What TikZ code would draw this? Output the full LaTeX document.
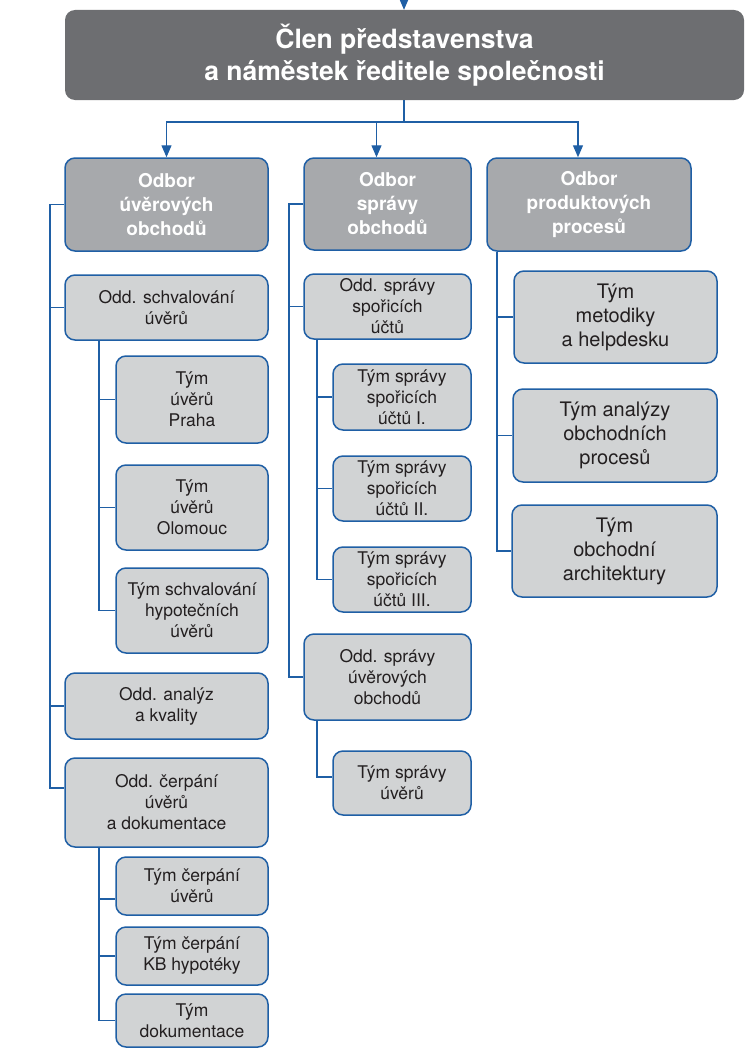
\documentclass[tikz,border=0pt]{standalone}
\usepackage{fontspec}
\setmainfont{TeX Gyre Heros}
\usetikzlibrary{arrows.meta}
\definecolor{topgray}{HTML}{6D6E71}
\definecolor{midgray}{HTML}{A7A9AC}
\definecolor{lightgray}{HTML}{D1D3D4}
\definecolor{lineblue}{HTML}{1F5FA5}
\definecolor{txt}{HTML}{231F20}
\newcommand\bx[7]{\node[#1, minimum width={#5-#3}, minimum height={#6-#4}] (#2) at ({(#3+#5)/2},{(#4+#6)/2}) {#7};}
\begin{document}
\begin{tikzpicture}[x=1pt,y=-1pt,
  base/.style={rounded corners=10pt, align=center, inner sep=0pt},
  topbox/.style={base, fill=topgray, text=white, font=\bfseries\fontsize{26.5}{32}\selectfont},
  odbor/.style={base, draw=lineblue, line width=1.5pt, fill=midgray, text=white, font=\bfseries\fontsize{19}{24}\selectfont},
  odd/.style={base, draw=lineblue, line width=1.5pt, fill=lightgray, text=txt, font=\fontsize{17.5}{21}\selectfont},
  tym/.style={odd},
  tymc/.style={odd, font=\fontsize{20}{24}\selectfont},
  conn/.style={draw=lineblue, line width=1.2pt},
  arr/.style={conn, -{Triangle[width=10pt,length=12pt]}}
]
\useasboundingbox (0,0) rectangle (745,1049);

% top
\bx{topbox}{T}{65}{10}{744}{100}{Člen představenstva\\a náměstek ředitele společnosti}
% level 1
\bx{odbor}{A}{65}{158}{268}{251}{Odbor\\úvěrových\\obchodů}
\bx{odbor}{B}{304}{158}{471}{250}{Odbor\\správy\\obchodů}
\bx{odbor}{C}{487}{158}{691}{251}{Odbor\\produktových\\procesů}

% column A
\bx{odd}{A1}{65}{275}{268}{340}{Odd. schvalování\\úvěrů}
\bx{tym}{A11}{116}{356}{268}{443}{Tým\\úvěrů\\Praha}
\bx{tym}{A12}{116}{465}{268}{550}{Tým\\úvěrů\\Olomouc}
\bx{tym}{A13}{116}{568}{268}{653}{Tým schvalování\\hypotečních\\úvěrů}
\bx{odd}{A2}{65}{673}{268}{739}{Odd. analýz\\a kvality}
\bx{odd}{A3}{65}{758}{268}{847}{Odd. čerpání\\úvěrů\\a dokumentace}
\bx{tym}{A31}{116}{857}{268}{915}{Tým čerpání\\úvěrů}
\bx{tym}{A32}{116}{927}{268}{985}{Tým čerpání\\KB hypotéky}
\bx{tym}{A33}{116}{994}{268}{1047}{Tým\\dokumentace}

% column B
\bx{odd}{B1}{304}{274}{471}{339}{Odd. správy\\spořicích\\účtů}
\bx{tym}{B11}{333}{364}{471}{430}{Tým správy\\spořicích\\účtů I.}
\bx{tym}{B12}{333}{456}{471}{521}{Tým správy\\spořicích\\účtů II.}
\bx{tym}{B13}{333}{547}{471}{612}{Tým správy\\spořicích\\účtů III.}
\bx{odd}{B2}{304}{634}{471}{720}{Odd. správy\\úvěrových\\obchodů}
\bx{tym}{B21}{333}{751}{471}{815}{Tým správy\\úvěrů}

% column C
\bx{tymc}{C1}{514}{271}{717}{363}{Tým\\metodiky\\a helpdesku}
\bx{tymc}{C2}{513}{389}{717}{482}{Tým analýzy\\obchodních\\procesů}
\bx{tymc}{C3}{512}{505}{717}{597}{Tým\\obchodní\\architektury}

% top arrows
\coordinate (in) at (404,0);
\draw[arr] (in) -- (T.north -| in);
\coordinate (split) at (404,122);
\draw[conn] (T.south -| split) -- (split);
\draw[arr] (split) -| (A.north);
\draw[arr] (split) -| ([xshift=-11pt]B.north);
\draw[arr] (split) -| ([xshift=-11pt]C.north);

% buses
\coordinate (busA) at (50,0);
\coordinate (busA1) at (99,0);
\coordinate (busB) at (289,0);
\coordinate (busB1) at (317,0);
\coordinate (busC) at (497,0);

\draw[conn] (A.west) -- (A.west -| busA) |- ([yshift=14.5pt]A3.west);
\draw[conn] (busA |- A1.west) -- (A1.west);
\draw[conn] (busA |- A2.west) -- (A2.west);

\draw[conn] (A1.south -| busA1) |- (A13.west);
\draw[conn] (busA1 |- A11.west) -- (A11.west);
\draw[conn] (busA1 |- A12.west) -- (A12.west);

\draw[conn] (A3.south -| busA1) |- (A33.west);
\draw[conn] (busA1 |- A31.west) ++(0,13) -- ([yshift=-13pt]A31.west);
\draw[conn] (busA1 |- A32.west) -- (A32.west);

\draw[conn] (B.west) -- (B.west -| busB) |- (B2.west);
\draw[conn] (busB |- B1.west) -- (B1.west);
\draw[conn] (B1.south -| busB1) |- (B13.west);
\draw[conn] (busB1 |- B11.west) -- (B11.west);
\draw[conn] (busB1 |- B12.west) -- (B12.west);
\draw[conn] (B2.south -| busB1) |- ([yshift=6pt]B21.west);

\draw[conn] (C.south -| busC) |- (C3.west);
\draw[conn] (busC |- C1.west) -- (C1.west);
\draw[conn] (busC |- C2.west) -- (C2.west);
\end{tikzpicture}
\end{document}
